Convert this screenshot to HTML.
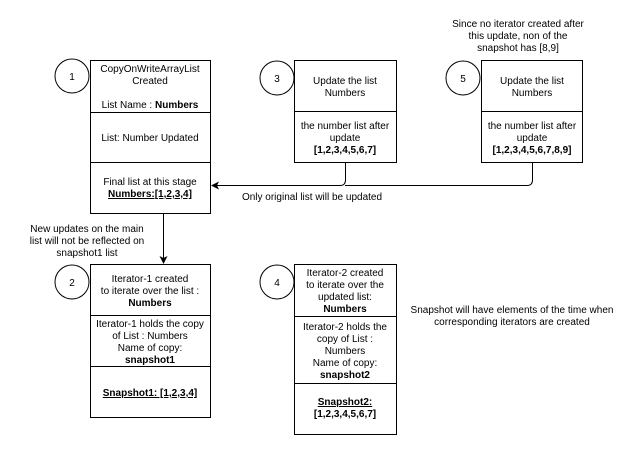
<!DOCTYPE html>
<html><head><style>
body{margin:0;background:#fff;}
svg text{font-family:"Liberation Sans",Arial,sans-serif;font-size:10px;fill:#000;}
.b{font-weight:bold;}
</style></head><body>
<svg width="630" height="454" viewBox="0 0 630 454" xmlns="http://www.w3.org/2000/svg">
<defs><marker id="a" markerWidth="8" markerHeight="8" refX="7" refY="4" orient="auto" markerUnits="userSpaceOnUse"><path d="M0,0 L8,4 L0,8 L2,4 z" fill="#000"/></marker></defs>
<g fill="none" stroke="#000" stroke-width="1">
<rect x="90.5" y="60.5" width="120" height="153"/><line x1="90" y1="112.5" x2="210" y2="112.5"/><line x1="90" y1="162.5" x2="210" y2="162.5"/>
<circle cx="72" cy="76" r="17"/>
<rect x="294.5" y="60.5" width="102" height="102"/><line x1="294" y1="111.5" x2="396" y2="111.5"/>
<circle cx="277" cy="78" r="17"/>
<rect x="481.5" y="60.5" width="101" height="102"/><line x1="481" y1="111.5" x2="582" y2="111.5"/>
<circle cx="463" cy="78" r="17"/>
<rect x="90.5" y="264.5" width="120" height="153"/><line x1="90" y1="315.5" x2="210" y2="315.5"/><line x1="90" y1="366.5" x2="210" y2="366.5"/>
<circle cx="72" cy="282" r="17"/>
<rect x="294.5" y="264.5" width="102" height="170"/><line x1="294" y1="316.5" x2="396" y2="316.5"/><line x1="294" y1="383.5" x2="396" y2="383.5"/>
<circle cx="277" cy="282" r="17"/>
<path d="M345.5,162 V180 Q345.5,185.5 340,185.5 H212" marker-end="url(#a)"/>
<path d="M532.5,162 V180 Q532.5,185.5 527,185.5 H345"/>
<path d="M163.5,213 V263" marker-end="url(#a)"/>
</g>
<g text-anchor="middle">
<text x="72" y="80">1</text><text x="277" y="82">3</text><text x="463" y="82">5</text><text x="72" y="286">2</text><text x="277" y="286">4</text>
<text x="150" y="72">CopyOnWriteArrayList</text><text x="150" y="84">Created</text>
<text x="150" y="108">List Name : <tspan class="b">Numbers</tspan></text>
<text x="150" y="141">List: Number Updated</text>
<text x="150" y="185">Final list at this stage</text>
<text x="150" y="197" class="b" text-decoration="underline">Numbers:[1,2,3,4]</text>
<text x="345" y="84">Update the list</text><text x="345" y="96">Numbers</text>
<text x="345" y="129">the number list after</text><text x="345" y="141">update</text><text x="345" y="153" class="b">[1,2,3,4,5,6,7]</text>
<text x="532" y="84">Update the list</text><text x="532" y="96">Numbers</text>
<text x="532" y="129">the number list after</text><text x="532" y="141">update</text><text x="532" y="153" class="b">[1,2,3,4,5,6,7,8,9]</text>
<text x="518" y="27">Since no iterator created after</text><text x="518" y="39">this update, non of the</text><text x="518" y="51">snapshot has [8,9]</text>
<text x="312" y="200">Only original list will be updated</text>
<text x="87" y="232">New updates on the main</text><text x="87" y="244">list will not be reflected on</text><text x="87" y="256">snapshot1 list</text>
<text x="150" y="282">Iterator-1 created</text><text x="150" y="294">to iterate over the list :</text><text x="150" y="306" class="b">Numbers</text>
<text x="150" y="327">Iterator-1 holds the copy</text><text x="150" y="339">of List : Numbers</text><text x="150" y="351">Name of copy:</text><text x="150" y="363" class="b">snapshot1</text>
<text x="150" y="396" class="b" text-decoration="underline">Snapshot1: [1,2,3,4]</text>
<text x="345" y="276">Iterator-2 created</text><text x="345" y="288">to iterate over the</text><text x="345" y="300">updated list:</text><text x="345" y="312" class="b">Numbers</text>
<text x="345" y="330">Iterator-2 holds the</text><text x="345" y="342">copy of List :</text><text x="345" y="354">Numbers</text><text x="345" y="366">Name of copy:</text><text x="345" y="378" class="b">snapshot2</text>
<text x="345" y="405" class="b" text-decoration="underline">Snapshot2:</text><text x="345" y="417" class="b">[1,2,3,4,5,6,7]</text>
<text x="512" y="313">Snapshot will have elements of the time when</text><text x="512" y="325">corresponding iterators are created</text>
</g>
</svg>
</body></html>
